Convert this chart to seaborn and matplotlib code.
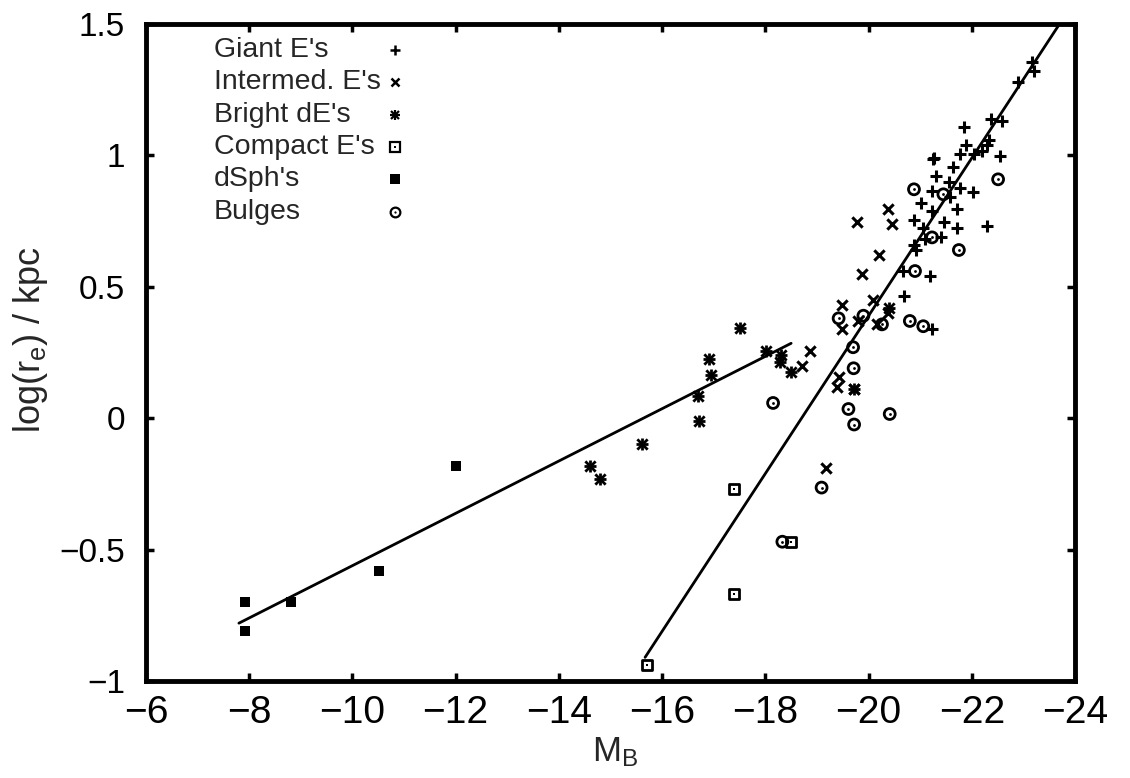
import numpy as np
import pandas as pd
import matplotlib
matplotlib.use('Agg')
import matplotlib.pyplot as plt
import seaborn as sns

# data (M_B, log r_e)
giant_x = [-23.17, -23.20, -22.90, -22.37, -22.59, -21.84, -22.33, -22.30, -21.89, -21.78,
           -22.04, -22.20, -22.54, -21.27, -21.25, -21.64, -21.30, -21.56, -21.22, -21.78,
           -22.03, -21.57, -21.02, -21.23, -21.72, -20.88, -21.46, -21.72, -21.06, -22.29,
           -21.40, -21.10, -20.88, -20.91, -21.20, -20.66, -20.68, -21.23]
giant_y = [1.355, 1.32, 1.28, 1.137, 1.13, 1.108, 1.058, 1.04, 1.04, 1.007,
           1.005, 1.017, 0.998, 0.99, 0.985, 0.955, 0.92, 0.90, 0.866, 0.875,
           0.86, 0.843, 0.82, 0.79, 0.795, 0.755, 0.745, 0.723, 0.723, 0.733,
           0.69, 0.68, 0.66, 0.64, 0.54, 0.56, 0.465, 0.34]

inter_x = [-18.87, -18.72, -19.48, -19.48, -19.43, -19.39, -19.17, -20.21, -19.87,
           -20.08, -19.79, -20.17, -20.37, -19.71, -20.37, -19.77, -20.45]
inter_y = [0.256, 0.197, 0.43, 0.34, 0.155, 0.117, -0.19, 0.62, 0.55,
           0.45, 0.37, 0.36, 0.40, 0.11, 0.795, 0.745, 0.74]

bde_x = [-17.50, -18.01, -18.30, -18.28, -18.49, -16.90, -16.95, -16.70, -16.72,
         -15.61, -14.60, -14.80, -20.40, -19.71]
bde_y = [0.342, 0.254, 0.241, 0.214, 0.174, 0.225, 0.164, 0.086, -0.011,
         -0.10, -0.18, -0.23, 0.42, 0.11]

compact_x = [-15.70, -17.40, -17.40, -18.50]
compact_y = [-0.94, -0.27, -0.67, -0.47]

dsph_x = [-7.91, -7.91, -8.80, -10.51, -12.0]
dsph_y = [-0.70, -0.81, -0.70, -0.58, -0.18]

bulge_x = [-20.88, -22.51, -21.45, -21.23, -21.75, -20.90, -19.42, -19.90, -20.26, -20.80,
           -21.06, -19.70, -19.71, -19.61, -19.72, -20.41, -19.09, -18.15, -18.33]
bulge_y = [0.871, 0.909, 0.852, 0.688, 0.64, 0.56, 0.38, 0.39, 0.357, 0.37,
           0.35, 0.27, 0.19, 0.035, -0.024, 0.016, -0.264, 0.058, -0.47]

# the two fitted lines (end points)
fit_dwarf_x = [-7.8, -18.5]
fit_dwarf_y = [-0.78, 0.285]
fit_giant_x = [-15.67, -23.7]
fit_giant_y = [-0.91, 1.5]

labels = ["Giant E's", "Intermed. E's", "Bright dE's", "Compact E's", "dSph's", "Bulges"]

sns.set_style('ticks')
plt.rcParams['font.family'] = ['Liberation Sans', 'DejaVu Sans']
plt.rcParams['mathtext.default'] = 'regular'

fig = plt.figure(figsize=(11.3, 7.78), dpi=100)
ax = fig.add_axes([146/1130, 97/778, 929/1130, 657/778])

k = 'black'
sns.lineplot(x=fit_dwarf_x, y=fit_dwarf_y, color=k, lw=2, ax=ax, sort=False)
sns.lineplot(x=fit_giant_x, y=fit_giant_y, color=k, lw=2, ax=ax, sort=False)

sns.scatterplot(x=giant_x, y=giant_y, marker='+', s=70, color=k, linewidth=2.2, ax=ax)
sns.scatterplot(x=inter_x, y=inter_y, marker='x', s=55, color=k, linewidth=2.2, ax=ax)
# bright dE's: gnuplot star = plus and cross on top of each other
sns.scatterplot(x=bde_x, y=bde_y, marker='+', s=75, color=k, linewidth=2.0, ax=ax)
sns.scatterplot(x=bde_x, y=bde_y, marker='x', s=55, color=k, linewidth=2.0, ax=ax)
sns.scatterplot(x=compact_x, y=compact_y, marker='s', s=62, facecolor='white',
                edgecolor=k, linewidth=2, ax=ax)
sns.scatterplot(x=compact_x, y=compact_y, marker='s', s=4, color=k, linewidth=0, ax=ax)
sns.scatterplot(x=dsph_x, y=dsph_y, marker='s', s=52, color=k, linewidth=0, ax=ax)
sns.scatterplot(x=bulge_x, y=bulge_y, marker='o', s=62, facecolor='none',
                edgecolor=k, linewidth=2, ax=ax)
sns.scatterplot(x=bulge_x, y=bulge_y, marker='o', s=4, color=k, linewidth=0, ax=ax)

ax.set_xlim(-6, -24)
ax.set_ylim(-1, 1.5)
ax.set_xticks(np.arange(-6, -25, -2))
ax.set_yticks([-1, -0.5, 0, 0.5, 1, 1.5])
ax.set_yticklabels(['\u22121', '\u22120.5', '0', '0.5', '1', '1.5'])
ax.tick_params(direction='in', length=6, width=2.5, top=True, right=True, colors=k)
ax.tick_params(axis='x', labelsize=28, pad=10)
ax.tick_params(axis='y', labelsize=24, pad=15)
for sp in ax.spines.values():
    sp.set_linewidth(3.5)
    sp.set_color(k)

ax.set_xlabel('M$_B$', fontsize=25)
ax.xaxis.set_label_coords(0.505, -0.083)
ax.set_ylabel('log(r$_e$) / kpc', fontsize=26)
ax.yaxis.set_label_coords(-0.103, 0.52)

# key drawn gnuplot style: label first, small symbol to the right
key_y0 = 0.9604
key_dy = 0.0492
key_tx = 0.0732
key_mx = 0.268
key_style = [
    [dict(marker='+', markersize=7, mew=1.8, color=k)],
    [dict(marker='x', markersize=6, mew=1.8, color=k)],
    [dict(marker='+', markersize=7, mew=1.6, color=k),
     dict(marker='x', markersize=5.5, mew=1.6, color=k)],
    [dict(marker='s', markersize=7, mfc='white', mec=k, mew=1.6),
     dict(marker='s', markersize=1.6, mew=0, color=k)],
    [dict(marker='s', markersize=7, mew=0, color=k)],
    [dict(marker='o', markersize=7, mfc='none', mec=k, mew=1.6),
     dict(marker='o', markersize=1.6, mew=0, color=k)],
]
for i, lab in enumerate(labels):
    yy = key_y0 - i * key_dy
    ax.text(key_tx, yy, lab, transform=ax.transAxes, fontsize=20.5,
            ha='left', va='center')
    for st in key_style[i]:
        ax.plot([key_mx], [yy], transform=ax.transAxes, linestyle='none', **st)

fig.savefig('out.png', dpi=100)
